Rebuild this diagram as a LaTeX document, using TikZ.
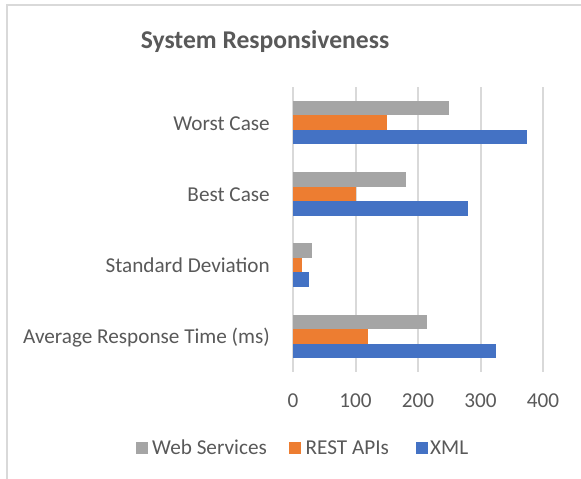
\documentclass[tikz,border=0pt]{standalone}
\usepackage{fontspec}
\setmainfont{Carlito}
\definecolor{txt}{HTML}{595959}
\definecolor{grid}{HTML}{D9D9D9}
\definecolor{wsgray}{HTML}{A5A5A5}
\definecolor{restor}{HTML}{ED7D31}
\definecolor{xmlblue}{HTML}{4472C4}
\tikzset{
  lbl/.style={text=txt, inner sep=0pt, font=\fontsize{21.2}{25}\selectfont},
  ttl/.style={text=txt, inner sep=0pt, font=\fontsize{25.6}{30}\selectfont\bfseries},
  gridline/.style={draw=grid, line width=2pt},
}
\begin{document}
\begin{tikzpicture}[x=1pt,y=-1pt]
\useasboundingbox (0,0) rectangle (581,479);
\fill[white] (0,0) rectangle (581,479);
% outer border (top and left visible)
\draw[grid, line width=2pt] (7,479) -- (7,5) -- (581,5);
% title
\node[ttl, anchor=base] (title) at (265,48) {System Responsiveness};
% gridlines and tick labels
\foreach \v/\n in {0/t0,100/t1,200/t2,300/t3,400/t4}{
  \draw[gridline] ({293+0.625*\v},87) -- ({293+0.625*\v},372);
  \node[lbl, anchor=base] (\n) at ({293+0.625*\v},407) {\v};
}
% bars: category center, gray, orange, blue
\foreach \c/\g/\o/\b/\name in {122.6/250/150/375/Worst Case,193.9/180/100/280/Best Case,265.1/30/15/25/Standard Deviation,336.4/215/120/325/Average Response Time (ms)}{
  \fill[wsgray] (293,\c-21.75) rectangle ({293+0.625*\g},\c-7.25);
  \fill[restor] (293,\c-7.25) rectangle ({293+0.625*\o},\c+7.25);
  \fill[xmlblue] (293,\c+7.25) rectangle ({293+0.625*\b},\c+21.75);
  \node[lbl, anchor=base east] at (270,\c+7.5) {\name};
}
% legend
\fill[wsgray] (136,442) rectangle (148,454);
\node[lbl, anchor=base west] (lg1) at (152,454.3) {Web Services};
\fill[restor] (289,442) rectangle (301,454);
\node[lbl, anchor=base west] (lg2) at (305.5,454.3) {REST APIs};
\fill[xmlblue] (416,442) rectangle (428,454);
\node[lbl, anchor=base west] (lg3) at (430,454.3) {XML};
\end{tikzpicture}
\end{document}
